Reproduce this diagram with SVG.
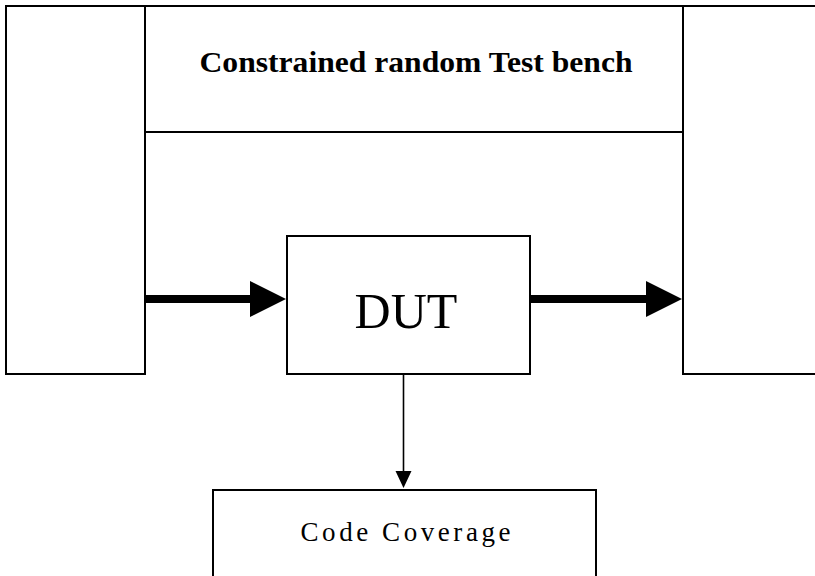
<svg xmlns="http://www.w3.org/2000/svg" width="815" height="576" viewBox="0 0 815 576">
<style>
.box{fill:#fff;stroke:#000;stroke-width:2}
.t{font-family:"Liberation Serif","Times New Roman",serif;fill:#000;text-anchor:middle}
.thick{stroke:#000;stroke-width:8;fill:none}
.thin{stroke:#000;stroke-width:1.6;fill:none}
</style>
<defs>
<marker id="bigHead" markerUnits="userSpaceOnUse" markerWidth="37" markerHeight="37" refX="1" refY="18" orient="auto" viewBox="0 0 37 37">
<path d="M0,0 L36,18 L0,36 Z" fill="#000"/>
</marker>
<marker id="smallHead" markerUnits="userSpaceOnUse" markerWidth="17" markerHeight="17" refX="1" refY="8" orient="auto" viewBox="0 0 17 17">
<path d="M0,0 L17,8 L0,16 Z" fill="#000"/>
</marker>
</defs>
<rect width="815" height="576" fill="#fff"/>
<g id="left-block"><rect class="box" x="6" y="6" width="139" height="368"/></g>
<g id="testbench"><rect class="box" x="145" y="6" width="538" height="126"/>
<text class="t" x="416" y="72" font-size="30" font-weight="bold" textLength="433" lengthAdjust="spacingAndGlyphs">Constrained random Test bench</text></g>
<g id="right-block"><rect class="box" x="683" y="6" width="200" height="368"/></g>
<g id="dut"><rect class="box" x="287" y="236" width="243" height="138"/>
<text class="t" x="406" y="328" font-size="50">DUT</text></g>
<g id="code-coverage"><rect class="box" x="213" y="490" width="383" height="120"/>
<text class="t" x="405.5" y="541" font-size="27" textLength="210" lengthAdjust="spacing">Code Coverage</text></g>
<g id="connectors">
<line class="thick" x1="146" y1="299" x2="251" y2="299" marker-end="url(#bigHead)"/>
<line class="thick" x1="531" y1="299" x2="647" y2="299" marker-end="url(#bigHead)"/>
<line class="thin" x1="403.5" y1="375" x2="403.5" y2="472" marker-end="url(#smallHead)"/>
</g>
</svg>
